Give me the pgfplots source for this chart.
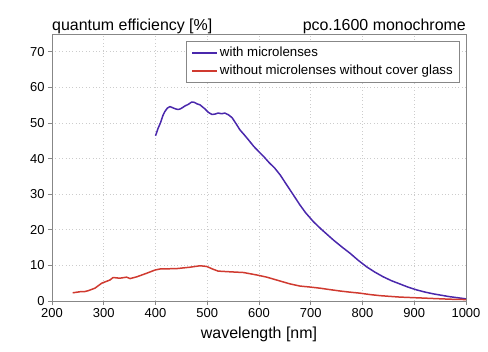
\documentclass[border=0pt]{standalone}
\usepackage{pgfplots}
\pgfplotsset{compat=1.18}
\usepackage{fontspec}
\setmainfont{Liberation Sans}
\definecolor{qpurple}{RGB}{74,40,172}
\definecolor{qred}{RGB}{208,58,48}
\definecolor{axgray}{RGB}{135,135,135}
\begin{document}
\begin{tikzpicture}
\path[use as bounding box] (-52bp,-51bp) rectangle (436bp,301bp);
\begin{axis}[
  name=ax,
  at={(0,0)}, anchor=south west,
  scale only axis, width=414bp, height=267bp,
  xmin=200, xmax=1000, ymin=0, ymax=75,
  xtick={200,300,...,1000}, ytick={0,10,...,70},
  axis line style={axgray, line width=0.8pt},
  tick style={axgray, line width=0.8pt},
  tick align=outside, tick pos=left, major tick length=4bp,
  grid=major, grid style={dash pattern=on 0.8pt off 2.6pt, gray!40, line width=0.7pt},
  tick label style={font=\fontsize{13}{15}\selectfont},
  /pgf/number format/assume math mode=true,
  /pgf/number format/set thousands separator={},
  xlabel={wavelength [nm]},
  xlabel style={font=\fontsize{16}{18}\selectfont, at={(axis description cs:0.5,-0.124)}, anchor=center},
  legend style={draw=axgray, line width=0.6pt, at={(0.9855,0.974)}, anchor=north east,
    font=\fontsize{13.3}{15}\selectfont, inner xsep=5bp, inner ysep=4bp, row sep=3bp},
  legend cell align=left,
  legend image code/.code={\draw[#1] (0cm,0cm) -- (25bp,0cm);},
]
\addplot[qpurple, line width=1.5pt, line join=round] coordinates {
(400,46.4) (405,48.5) (410,50.2) (414,52.0) (418,53.2) (423,54.2) (428,54.6) (433,54.3) (438,54.0) (443,53.8) (447,53.9) (452,54.3) (457,54.8) (463,55.2) (470,55.9) (475,55.8) (480,55.4) (486,55.1) (491,54.5) (496,53.9) (502,53.0) (509,52.4) (515,52.5) (521,52.8) (528,52.6) (534,52.8) (541,52.3) (548,51.5) (557,49.5) (563,48.1) (572,46.6) (580,45.2) (590,43.4) (600,41.9) (609,40.6) (620,38.8) (630,37.4) (641,35.4) (650,33.4) (660,31.2) (670,29.0) (679,27.0) (690,24.8) (705,22.3) (720,20.2) (744,17.1) (760,15.2) (776,13.4) (792,11.4) (808,9.6) (824,8.1) (840,6.8) (856,5.7) (872,4.8) (888,3.9) (905,3.1) (921,2.5) (937,2.0) (953,1.6) (969,1.2) (985,0.9) (1000,0.6)
};
\addlegendentry{with microlenses}
\addplot[qred, line width=1.5pt, line join=round] coordinates {
(240,2.3) (254,2.6) (262,2.6) (270,2.9) (283,3.6) (296,5.0) (312,5.9) (318,6.6) (331,6.4) (344,6.7) (351,6.3) (364,6.8) (383,7.8) (399,8.7) (409,9.0) (441,9.1) (467,9.5) (486,9.9) (499,9.7) (510,9.0) (521,8.4) (544,8.2) (570,8.0) (596,7.3) (615,6.7) (641,5.6) (660,4.8) (679,4.2) (700,3.9) (718,3.6) (737,3.2) (757,2.8) (775,2.5) (795,2.2) (815,1.8) (834,1.5) (853,1.3) (872,1.1) (905,0.9) (937,0.7) (970,0.5) (1000,0.4)
};
\addlegendentry{without microlenses without cover glass}
\end{axis}
\node[anchor=base west, font=\fontsize{16}{18}\selectfont, inner sep=0pt] at ([yshift=4bp]ax.north west) {quantum efficiency [\%]};
\node[anchor=base east, font=\fontsize{16}{18}\selectfont, inner sep=0pt] at ([yshift=4bp]ax.north east) {pco.1600 monochrome};
\end{tikzpicture}
\end{document}
